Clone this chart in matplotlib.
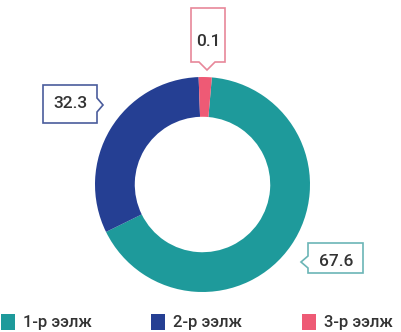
import matplotlib
matplotlib.use("Agg")
import matplotlib.pyplot as plt
from matplotlib.patches import Polygon, Rectangle

categories = ["1-р ээлж", "2-р ээлж", "3-р ээлж"]
values = [67.6, 32.3, 0.1]
value_labels = ["67.6", "32.3", "0.1"]
colors = ["#1E9A9B", "#253F93", "#EE5A75"]
edge_colors = ["#6BB5B6", "#4A5C9C", "#E8879A"]

W, H = 401, 332
fig = plt.figure(figsize=(W / 100, H / 100), dpi=100)
fig.patch.set_facecolor("white")
plt.rcParams['font.family'] = ['Roboto', 'DejaVu Sans']

# donut axes
cx, cy, R = 202.5, 184.5, 107.5
ax = fig.add_axes([(cx - R) / W, 1 - (cy + R) / H, 2 * R / W, 2 * R / H])
min_frac = 0.02
total = sum(values)
display = [max(v, min_frac * total) for v in values]
ax.pie(display, colors=colors, startangle=85, counterclock=False, radius=1,
       wedgeprops=dict(width=0.37, edgecolor="none"))
ax.set_xlim(-1, 1)
ax.set_ylim(-1, 1)
ax.set_aspect("equal")
ax.axis("off")

# overlay in pixel coords
ov = fig.add_axes([0, 0, 1, 1], zorder=5)
ov.set_xlim(0, W)
ov.set_ylim(H, 0)
ov.axis("off")
ov.patch.set_alpha(0)

txtc = "#333333"
# callout boxes (positions are layout)
boxes = {
    0: dict(poly=[(308, 243), (363, 243), (363, 273), (308, 273), (308, 268),
                  (301, 262), (308, 256)], text=(336, 261)),
    1: dict(poly=[(43, 85), (97, 85), (97, 98), (103, 105), (97, 112),
                  (97, 123), (43, 123)], text=(70, 104)),
    2: dict(poly=[(191, 8), (225, 8), (225, 62), (215, 62), (207, 70),
                  (199, 62), (191, 62)], text=(208, 42)),
}
for i, b in boxes.items():
    ov.add_patch(Polygon(b["poly"], closed=True, facecolor="white",
                         edgecolor=edge_colors[i], linewidth=1.2))
    ov.text(b["text"][0], b["text"][1], value_labels[i], ha="center",
            va="center", fontsize=12.5, color=txtc, fontweight="medium")

# legend
leg_x = [1, 151, 302]
for i, name in enumerate(categories):
    ov.add_patch(Rectangle((leg_x[i], 314), 14, 16, facecolor=colors[i],
                           edgecolor="none"))
    ov.text(leg_x[i] + 22, 322, name, ha="left", va="center",
            fontsize=12, color=txtc, fontweight="medium")

fig.savefig("out.png", dpi=100, facecolor="white")
